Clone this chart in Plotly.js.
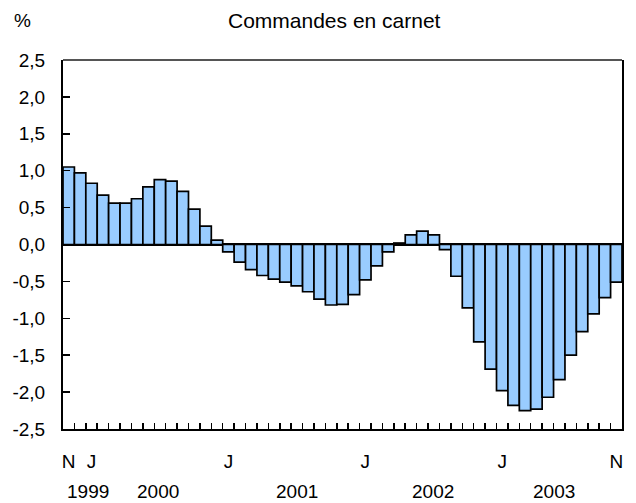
<!DOCTYPE html>
<html>
<head>
<meta charset="utf-8">
<script src="https://cdn.plot.ly/plotly-3.0.1.min.js"></script>
<style>html,body{margin:0;padding:0;background:#fff}#chart{width:636px;height:503px}</style>
</head>
<body>
<div id="chart"></div>
<script>
// Monthly observations, Nov 1999 – Nov 2003
const months = [
  "1999-11","1999-12",
  "2000-01","2000-02","2000-03","2000-04","2000-05","2000-06","2000-07","2000-08","2000-09","2000-10","2000-11","2000-12",
  "2001-01","2001-02","2001-03","2001-04","2001-05","2001-06","2001-07","2001-08","2001-09","2001-10","2001-11","2001-12",
  "2002-01","2002-02","2002-03","2002-04","2002-05","2002-06","2002-07","2002-08","2002-09","2002-10","2002-11","2002-12",
  "2003-01","2003-02","2003-03","2003-04","2003-05","2003-06","2003-07","2003-08","2003-09","2003-10","2003-11"
];
const values = [
  1.05, 0.97,
  0.83, 0.67, 0.56, 0.56, 0.62, 0.78, 0.88, 0.86, 0.72, 0.48, 0.25, 0.06,
  -0.10, -0.24, -0.34, -0.42, -0.47, -0.51, -0.56, -0.64, -0.74, -0.82, -0.81, -0.68,
  -0.48, -0.29, -0.10, 0.02, 0.13, 0.18, 0.13, -0.07, -0.43, -0.86, -1.32, -1.69,
  -1.98, -2.18, -2.25, -2.23, -2.07, -1.83, -1.50, -1.18, -0.94, -0.72, -0.51
];
const monthTickMonths = ["1999-11","2000-01","2001-01","2002-01","2003-01","2003-11"];
const monthTickText = ["N","J","J","J","J","N"];
const yearLabels = ["1999","2000","2001","2002","2003"];
const yearLabelPos = [1.7, 7.8, 20.0, 31.9, 42.5];
const yTickVals = [-2.5,-2.0,-1.5,-1.0,-0.5,0,0.5,1.0,1.5,2.0,2.5];
const yTickText = ["-2,5","-2,0","-1,5","-1,0","-0,5","0,0","0,5","1,0","1,5","2,0","2,5"];
const titleText = "Commandes en carnet";
const unitText = "%";

const idx = months.map((m, i) => i);
const boundaries = months.slice(1).map((m, i) => i + 0.5);
const monthTickIdx = monthTickMonths.map(m => months.indexOf(m));

const FONT = "Liberation Sans, Arial, sans-serif";
const W = 636, H = 503, ML = 63, MR = 14, MT = 60, MB = 74;
const PW = W - ML - MR, PH = H - MT - MB;
const px2paperX = x => (x - ML) / PW;
const px2paperY = y => (H - MB - y) / PH;

const data = [
  {
    type: "bar",
    x: idx,
    y: values,
    marker: {color: "#99CCFF", line: {color: "#000", width: 1.7}},
    hoverinfo: "skip"
  },
  {
    type: "scatter", mode: "markers", x: [0], y: [0], xaxis: "x2", yaxis: "y",
    marker: {opacity: 0}, hoverinfo: "skip", showlegend: false
  }
];

const annotations = yearLabels.map((t, i) => ({
  text: t, x: yearLabelPos[i], xref: "x", y: px2paperY(491), yref: "paper",
  xanchor: "center", yanchor: "middle",
  showarrow: false, font: {family: FONT, size: 19, color: "#000"}
})).concat([
  {text: titleText, x: px2paperX(334), xref: "paper", y: px2paperY(20), yref: "paper",
   xanchor: "center", yanchor: "middle", showarrow: false,
   font: {family: FONT, size: 21, color: "#000"}},
  {text: unitText, x: px2paperX(22), xref: "paper", y: px2paperY(20), yref: "paper",
   xanchor: "center", yanchor: "middle", showarrow: false,
   font: {family: FONT, size: 19, color: "#000"}}
]);

const layout = {
  width: W, height: H,
  margin: {l: ML, r: MR, t: MT, b: MB, pad: 0},
  paper_bgcolor: "#fff", plot_bgcolor: "#fff",
  showlegend: false,
  bargap: 0,
  font: {family: FONT, size: 19, color: "#000"},
  xaxis: {
    range: [-0.5, months.length - 0.5],
    tickmode: "array", tickvals: boundaries,
    ticks: "inside", ticklen: 6, tickwidth: 1.5, tickcolor: "#000",
    showticklabels: false, showgrid: false, zeroline: false,
    showline: true, linecolor: "#000", linewidth: 2, mirror: false
  },
  xaxis2: {
    overlaying: "x", anchor: "y", side: "bottom", matches: "x",
    range: [-0.5, months.length - 0.5],
    tickmode: "array", tickvals: monthTickIdx, ticktext: monthTickText,
    ticks: "", showgrid: false, zeroline: false, showline: false,
    ticklabelstandoff: 19,
    tickfont: {family: FONT, size: 19, color: "#000"}
  },
  yaxis: {
    range: [-2.5, 2.5],
    tickmode: "array", tickvals: yTickVals, ticktext: yTickText,
    ticks: "inside", ticklen: 7, tickwidth: 1.5, tickcolor: "#000",
    ticklabelstandoff: 12,
    tickfont: {family: FONT, size: 19, color: "#000"},
    showgrid: false,
    zeroline: true, zerolinecolor: "#000", zerolinewidth: 2.5,
    showline: true, linecolor: "#000", linewidth: 2, mirror: true
  },
  shapes: [
    {type: "line", xref: "paper", yref: "paper", x0: 0, x1: 1, y0: 1, y1: 1,
     line: {color: "#555", width: 2}}
  ],
  annotations: annotations
};

Plotly.newPlot("chart", data, layout, {displayModeBar: false, staticPlot: true});
</script>
</body>
</html>
